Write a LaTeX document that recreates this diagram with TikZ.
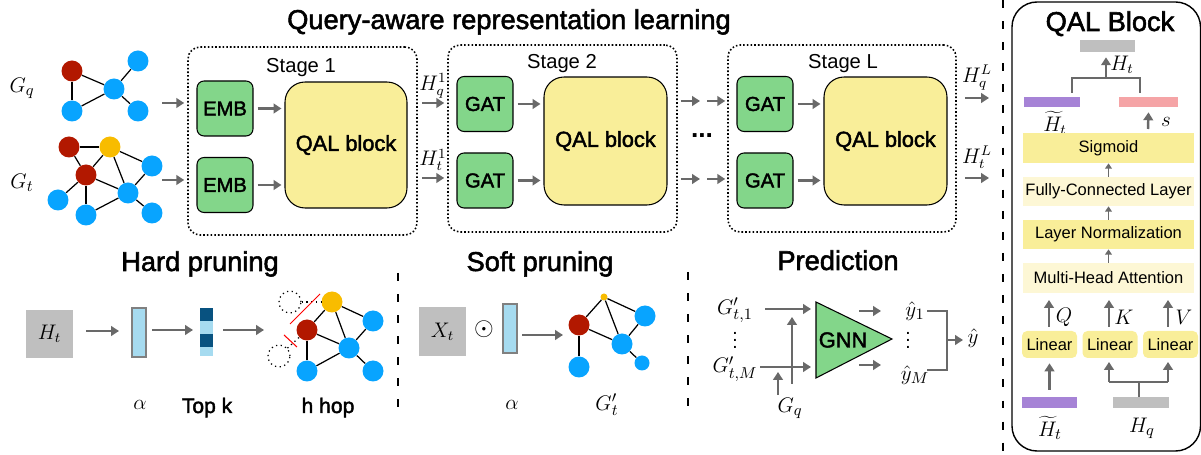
\documentclass[tikz,border=0pt]{standalone}
\usepackage[no-math]{fontspec}
\setmainfont{Liberation Sans}
\newfontfamily\medfont{Liberation Sans}[FakeBold=2]
\usetikzlibrary{arrows.meta}
\definecolor{agray}{RGB}{105,105,105}
\definecolor{gfill}{RGB}{131,214,138}
\definecolor{qfill}{RGB}{249,238,153}
\definecolor{lfill}{RGB}{253,247,213}
\definecolor{nblue}{RGB}{8,164,255}
\definecolor{nred}{RGB}{178,24,0}
\definecolor{nyel}{RGB}{248,188,0}
\definecolor{bgray}{RGB}{191,191,191}
\definecolor{purp}{RGB}{166,131,214}
\definecolor{pinkc}{RGB}{245,164,166}
\definecolor{lblue}{RGB}{166,219,240}
\definecolor{dblue}{RGB}{8,82,128}
\begin{document}
\begin{tikzpicture}[x=0.02cm,y=-0.02cm,
 arr/.style={draw=agray,line width=1.4pt,-{Triangle[length=4.5pt,width=5.5pt]}},
 sarr/.style={draw=agray,line width=1.1pt,-{Triangle[length=3pt,width=3.8pt]}},
 ln/.style={draw=agray,line width=1.4pt},
 stagebox/.style={draw,line width=0.9pt,dash pattern=on 0.9pt off 1.2pt,rounded corners=0.24cm,minimum width=4.58cm,inner sep=0},
 gbox/.style={draw,fill=gfill,rounded corners=0.14cm,line width=0.6pt,minimum width=1.12cm,minimum height=1.1cm,inner sep=0,font=\medfont\fontsize{11.5}{13}\selectfont},
 qbox/.style={draw,fill=qfill,rounded corners=0.4cm,line width=0.6pt,minimum width=2.44cm,minimum height=2.54cm,inner sep=0,font=\medfont\fontsize{12.4}{14}\selectfont},
 ttl/.style={font=\medfont\fontsize{15.5}{18}\selectfont,anchor=base,inner sep=0},
 stl/.style={font=\fontsize{11.5}{13}\selectfont,anchor=base,inner sep=0},
 mlab/.style={font=\fontsize{12}{14}\selectfont,inner sep=0},
 blab/.style={font=\fontsize{13}{15}\selectfont,inner sep=0},
 gn/.style={circle,minimum size=0.42cm,inner sep=0},
 gb/.style={gn,fill=nblue},
 gr/.style={gn,fill=nred},
 gy/.style={gn,fill=nyel},
 dc/.style={circle,draw,dotted,line width=0.7pt,minimum size=0.44cm,inner sep=0},
 ed/.style={line width=0.7pt},
 pbox/.style={fill=qfill,minimum width=3.42cm,minimum height=0.58cm,inner sep=0,font=\fontsize{9.4}{11}\selectfont},
 lbox/.style={fill=qfill,rounded corners=0.1cm,minimum width=1.1cm,minimum height=0.54cm,inner sep=0,font=\fontsize{9.4}{11}\selectfont},
 bar/.style={minimum width=1.1cm,minimum height=0.22cm,inner sep=0},
 vbar/.style={draw=gray,line width=0.6pt,fill=lblue,minimum width=0.28cm,minimum height=0.98cm,inner sep=0},
 sq/.style={fill=bgray,minimum width=0.94cm,minimum height=0.96cm,inner sep=0,font=\fontsize{12}{14}\selectfont},
 sep/.style={line width=1.3pt,dash pattern=on 4.5pt off 7.5pt}
]
\useasboundingbox (0,0) rectangle (1201,455);

% ---------- title ----------
\node[ttl] (title) at (509,29) {Query-aware representation learning};

% ---------- input graphs ----------
\node[blab] (lgq) at (22,88) {$G_q$};
\node[blab] (lgt) at (22,183) {$G_t$};
\node[gr] (qa) at (72,71) {};
\node[gb] (qb) at (138,61) {};
\node[gb] (qc) at (114,89) {};
\node[gb] (qd) at (72,111) {};
\node[gb] (qe) at (138,111) {};
\foreach \a/\b in {qa/qc,qa/qd,qd/qc,qc/qb,qc/qe} \draw[ed] (\a) -- (\b);

\node[gr] (ta) at (69,147) {};
\node[gy] (tb) at (110,147) {};
\node[gr] (tc) at (86,175) {};
\node[gb] (td) at (152,166) {};
\node[gb] (te) at (128,193) {};
\node[gb] (tf) at (58,200) {};
\node[gb] (tg) at (86,215) {};
\node[gb] (th) at (152,213) {};
\foreach \a/\b in {ta/tb,ta/tc,tb/tc,tb/td,tb/te,tc/te,tc/tf,tc/tg,te/td,te/tg,te/th} \draw[ed] (\a) -- (\b);

% ---------- stages ----------
\node[stagebox,minimum height=3.76cm] (st1) at (302.5,141) {};
\node[stagebox,minimum height=3.74cm] (st2) at (562.5,138.5) {};
\node[stagebox,minimum width=4.56cm,minimum height=3.74cm] (stL) at (842,138.5) {};
\node[stl] (s1l) at (301,73) {Stage 1};
\node[stl] (s2l) at (562,69) {Stage 2};
\node[stl] (sLl) at (843,69) {Stage L};

\node[gbox] (e1) at (225,108.5) {EMB};
\node[gbox] (e2) at (225,185) {EMB};
\node[qbox,minimum height=2.52cm] (qb1) at (346,145) {QAL block};
\node[gbox] (g2a) at (485,104) {GAT};
\node[gbox] (g2b) at (485,180.5) {GAT};
\node[qbox,minimum width=2.46cm,minimum height=2.56cm] (qb2) at (605.5,141) {QAL block};
\node[gbox] (gLa) at (765,104) {GAT};
\node[gbox] (gLb) at (765,180.5) {GAT};
\node[qbox,minimum width=2.46cm,minimum height=2.56cm] (qbL) at (885.5,141) {QAL block};

\coordinate (gqo) at (162,103);
\coordinate (gto) at (162,180);
\draw[arr,shorten >=0.06cm] (gqo) -- (gqo -| st1.west);
\draw[arr,shorten >=0.06cm] (gto) -- (gto -| st1.west);

\foreach \s/\t in {e1/qb1,e2/qb1,g2a/qb2,g2b/qb2,gLa/qbL,gLb/qbL}
  \draw[arr] ([xshift=0.08cm]\s.east) -- ([xshift=-0.06cm]\s.east -| \t.west);

\draw[arr] ([xshift=0.08cm]st1.east |- 0,103) -- ([xshift=-0.06cm]st2.west |- 0,103);
\draw[arr] ([xshift=0.08cm]st1.east |- 0,178) -- ([xshift=-0.06cm]st2.west |- 0,178);
\node[mlab] (hq1) at (433,86) {$H_q^1$};
\node[mlab] (ht1) at (433,160) {$H_t^1$};

\draw[arr] ([xshift=0.06cm]st2.east |- 0,101) -- (700,101);
\draw[arr] (707,101) -- ([xshift=-0.04cm]stL.west |- 0,101);
\draw[arr] ([xshift=0.06cm]st2.east |- 0,179) -- (700,179);
\draw[arr] (707,179) -- ([xshift=-0.04cm]stL.west |- 0,179);
\node[font=\fontsize{15}{17}\selectfont\bfseries,inner sep=0] (dots) at (702,136) {...};

\draw[arr] ([xshift=0.16cm]stL.east |- 0,98) -- (989,98);
\draw[arr] ([xshift=0.16cm]stL.east |- 0,178) -- (989,178);
\node[mlab] (hqL) at (977,78) {$H_q^L$};
\node[mlab] (htL) at (977,157) {$H_t^L$};

% ---------- separators ----------
\draw[sep] (1003,0) -- (1003,455);
\draw[sep] (398,273) -- (398,410);
\draw[sep] (688,272) -- (688,408);

% ---------- QAL Block panel ----------
\draw[line width=0.8pt,rounded corners=0.5cm] (1012,2) rectangle (1200.5,451);
\node[ttl] (qtitle) at (1110,31) {QAL Block};
\node[bar,fill=bgray,minimum width=1.1cm,minimum height=0.24cm] (htop) at (1107.5,46) {};
\node[bar,fill=purp,minimum width=1.12cm,minimum height=0.2cm] (purpT) at (1052,102) {};
\node[bar,fill=pinkc,minimum width=1.18cm,minimum height=0.2cm] (pinkT) at (1148.5,102) {};
\draw[ln] (1072,93) |- (1140,78) -- (1140,93);
\draw[arr] (1106,78) -- ([yshift=-0.1cm]htop.south -| 1106,0);
\node[mlab] (htl) at (1122,65) {$H_t$};
\node[mlab] (httl) at (1055,123) {$\widetilde{H}_t$};
\draw[arr] (1148,129) -- ([yshift=-0.1cm]pinkT.south);
\node[mlab] (sl) at (1166,122) {$s$};

\node[pbox,minimum height=0.6cm] (sig) at (1108.5,148) {Sigmoid};
\node[pbox,fill=lfill] (fc) at (1108.5,191.5) {Fully-Connected Layer};
\node[pbox] (lnorm) at (1108.5,234.5) {Layer Normalization};
\node[pbox,fill=lfill,minimum height=0.6cm] (mha) at (1108.5,278) {Multi-Head Attention};
\draw[sarr] (fc.north) -- (sig.south);
\draw[sarr] (lnorm.north) -- (fc.south);
\draw[sarr] (mha.north) -- (lnorm.south);

\node[lbox] (lin1) at (1049.5,344.5) {Linear};
\node[lbox] (lin2) at (1110,344.5) {Linear};
\node[lbox] (lin3) at (1170.5,344.5) {Linear};
\draw[arr] (1049,327) -- (1049,300);
\draw[arr] (1109,327) -- (1109,300);
\draw[arr] (1168,327) -- (1168,300);
\node[mlab] (lq) at (1064,317) {$Q$};
\node[mlab] (lk) at (1124,317) {$K$};
\node[mlab] (lv) at (1184,317) {$V$};

\node[bar,fill=purp,minimum width=1.1cm] (purpB) at (1049.5,402.5) {};
\node[bar,fill=bgray,minimum width=1.12cm] (hqB) at (1141,402.5) {};
\draw[arr,shorten <=0.14cm,shorten >=0.1cm] (purpB.north) -- (lin1.south);
\draw[ln] (1139,397) -- (1139,382);
\draw[ln] (1109,382) -- (1168,382);
\draw[arr] (1109,382) -- (1109,362);
\draw[arr] (1168,382) -- (1168,362);
\node[blab] (bht) at (1050,428) {$\widetilde{H}_t$};
\node[blab] (bhq) at (1142,428) {$H_q$};

% ---------- Hard pruning ----------
\node[ttl] (hpt) at (200,271) {Hard pruning};
\node[sq] (hsq) at (49.5,334) {$H_t$};
\node[vbar] (al1) at (139,332.5) {};
\node[inner sep=0,minimum width=0.26cm,minimum height=0.96cm] (topk) at (206.5,332) {};
\fill[dblue] (200,308) rectangle (213,321);
\fill[lblue] (200,321) rectangle (213,334);
\fill[dblue] (200,334) rectangle (213,347);
\fill[lblue] (200,347) rectangle (213,356);
\draw[arr] (86,331) -- (119,331);
\draw[arr] (152,330) -- (193,330);
\draw[arr] (223,330) -- (264,330);
\node[mlab] (alab1) at (140,405) {$\alpha$};
\node[stl,font=\medfont\fontsize{12}{14}\selectfont] (topkl) at (207,413) {Top k};
\node[stl,font=\medfont\fontsize{12}{14}\selectfont] (hhop) at (328,413) {h hop};

\node[gy] (ha) at (332,302) {};
\node[gr] (hb) at (307,330) {};
\node[gb] (hc) at (373,321) {};
\node[gb] (hd) at (349,348) {};
\node[gb] (he) at (307,371) {};
\node[gb] (hf) at (373,371) {};
\node[dc] (da) at (290,302) {};
\node[dc] (db) at (279,356) {};
\foreach \a/\b in {ha/hb,ha/hc,ha/hd,hb/hd,hb/he,hd/hc,hd/he,hd/hf} \draw[ed] (\a) -- (\b);
\draw[ed,dotted] (da) -- (ha);
\draw[ed,dotted] (db) -- (hb);
\draw[red,line width=0.6pt] (290,324) -- (320,294);
\draw[red,line width=0.6pt] (284,335) -- (297,347);

% ---------- Soft pruning ----------
\node[ttl] (spt) at (540,271) {Soft pruning};
\node[sq,minimum height=0.98cm] (xsq) at (442.5,331.5) {$X_t$};
\node[font=\fontsize{15}{17}\selectfont,inner sep=0] (odot) at (484,329) {$\odot$};
\node[vbar] (al2) at (510,328.5) {};
\draw[arr] (522,335) -- (563,335);
\node[mlab] (alab2) at (512,405) {$\alpha$};
\node[blab] (gtp) at (607,405) {$G_t'$};

\node[gn,fill=nyel,minimum size=0.14cm] (sa) at (604,297) {};
\node[gr] (sb) at (579,325) {};
\node[gb] (sc) at (645,316) {};
\node[gb] (sd) at (622,344) {};
\node[gb] (se) at (579,367) {};
\node[gn,fill=nblue,minimum size=0.3cm] (sf) at (642,363) {};
\foreach \a/\b in {sa/sb,sa/sc,sa/sd,sb/sd,sb/se,sd/sc,sd/sf} \draw[ed] (\a) -- (\b);

% ---------- Prediction ----------
\node[ttl] (prt) at (838,270) {Prediction};
\node[blab] (gt1) at (735,310) {$G_{t,1}'$};
\node[font=\fontsize{11}{13}\selectfont,inner sep=0] (vd1) at (735,335) {$\vdots$};
\node[blab] (gtm) at (735,369) {$G_{t,M}'$};
\node[blab] (gqp) at (790,408) {$G_q$};
\fill[gfill,draw=black,line width=0.6pt] (816,302) -- (892,339) -- (816,378) -- cycle;
\node[font=\medfont\fontsize{12.4}{14}\selectfont,inner sep=0] (gnn) at (843,340) {GNN};
\draw[arr] (765,309) -- (811,309);
\draw[arr] (760,367) -- (811,367);
\draw[arr] (792,384) -- (792,317);
\draw[arr] (778,395) -- (778,372);
\draw[arr] (859,311) -- (881,311);
\draw[arr] (859,365) -- (881,365);
\node[blab] (y1) at (915,311) {$\hat{y}_1$};
\node[font=\fontsize{11}{13}\selectfont,inner sep=0] (vd2) at (908,335) {$\vdots$};
\node[blab] (ym) at (915,375) {$\hat{y}_M$};
\draw[ln] (927,311) -- (947,311) -- (947,370) -- (927,370);
\draw[arr] (947,340) -- (963,340);
\node[blab] (yh) at (973,338) {$\hat{y}$};
\end{tikzpicture}
\end{document}
